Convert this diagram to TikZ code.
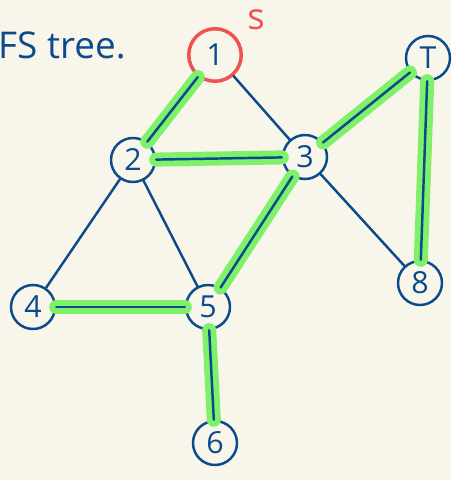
\documentclass[tikz,border=0pt]{standalone}
\usepackage{fontspec}
\setsansfont{Open Sans}
\definecolor{encre}{HTML}{0B4A8B}
\definecolor{surligne}{HTML}{7EF06A}
\definecolor{rouge}{HTML}{F05252}
\definecolor{papier}{HTML}{F8F6EB}
\tikzset{arbre/.style = {green edge/.style = {line width = 8pt, surligne, line cap = round},
                         blue edge/.style = {line width = 1.4pt, encre, line cap = round}},
         sommet/.style = {circle, draw = encre, line width = 1.4pt, minimum size = 0.88cm,
                          inner sep = 0pt, text = encre, font = \sffamily\LARGE}
        }

\begin{document}
\begin{tikzpicture}[x=0.02cm, y=-0.02cm, arbre]
\fill[papier] (0,0) rectangle (451,480);
\useasboundingbox (0,0) rectangle (451,480);
\node[anchor = west, text = encre, font = \sffamily\fontsize{21}{24}\selectfont] at (-8,45) (titre) {FS tree.};
\node[sommet, draw = rouge, line width = 2pt, minimum size = 1.05cm] at (215,55) (n1) {1};
\node[rouge, font = \sffamily\huge] at (256,20) (src) {s};
\node[sommet] at (428,58) (nT) {T};
\node[sommet] at (133,160) (n2) {2};
\node[sommet] at (305,157) (n3) {3};
\node[sommet] at (33,307) (n4) {4};
\node[sommet] at (208,307) (n5) {5};
\node[sommet] at (420,283) (n8) {8};
\node[sommet] at (215,443) (n6) {6};
% arbre en profondeur
\draw[green edge] (n1) -- (n2);
\draw[green edge] (n2) -- (n3);
\draw[green edge] (n3) -- (nT);
\draw[green edge] (nT) -- (n8);
\draw[green edge] (n3) -- (n5);
\draw[green edge] (n5) -- (n4);
\draw[green edge] (n5) -- (n6);
% toutes les aretes
\draw[blue edge] (n1) -- (n2);
\draw[blue edge] (n1) -- (n3);
\draw[blue edge] (n2) -- (n3);
\draw[blue edge] (n3) -- (nT);
\draw[blue edge] (nT) -- (n8);
\draw[blue edge] (n3) -- (n8);
\draw[blue edge] (n2) -- (n4);
\draw[blue edge] (n2) -- (n5);
\draw[blue edge] (n3) -- (n5);
\draw[blue edge] (n4) -- (n5);
\draw[blue edge] (n5) -- (n6);
\end{tikzpicture}
\end{document}
